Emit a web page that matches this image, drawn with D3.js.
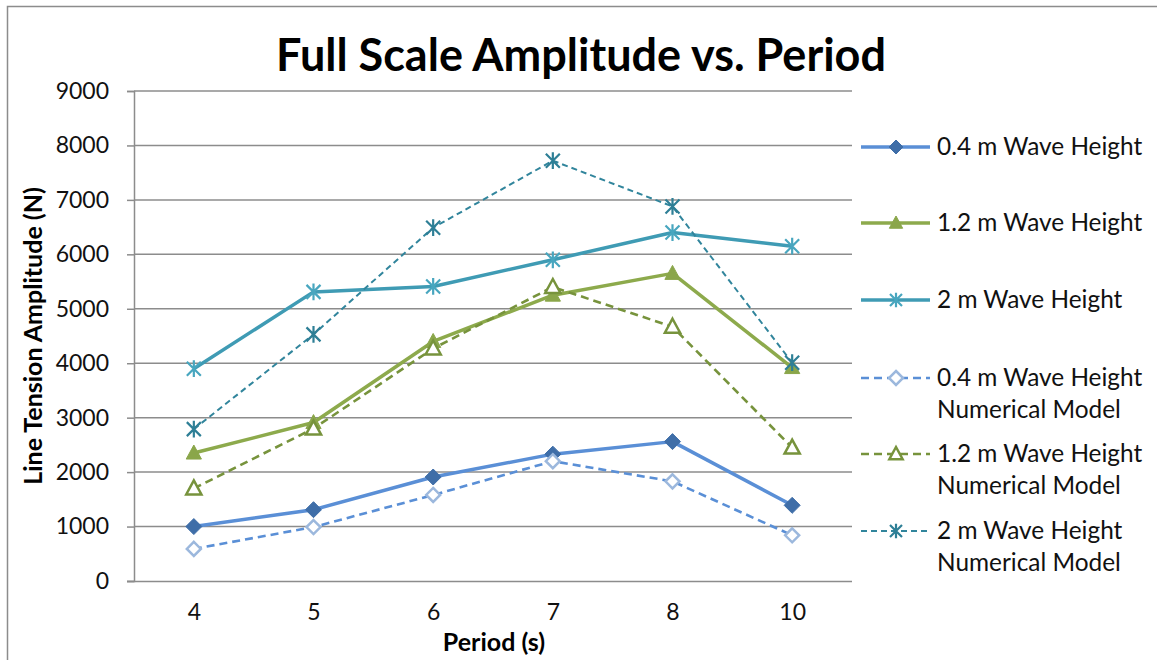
<!DOCTYPE html>
<html>
<head>
<meta charset="utf-8">
<script src="https://cdn.jsdelivr.net/npm/d3@7"></script>
<style>
  html, body { margin: 0; padding: 0; background: #fff; }
  svg { display: block; font-family: Lato, "Open Sans", sans-serif; }
</style>
</head>
<body>
<svg id="chart" width="1157" height="660"></svg>
<script>
// Periods (s) on the category axis
const periods = ["4", "5", "6", "7", "8", "10"];
const yTicks = [0, 1000, 2000, 3000, 4000, 5000, 6000, 7000, 8000, 9000];

// Line tension amplitude (N), measured
const wave04 = [1000, 1310, 1910, 2330, 2560, 1390];
const wave12 = [2350, 2910, 4400, 5250, 5650, 3920];
const wave20 = [3900, 5310, 5410, 5900, 6400, 6150];
// Line tension amplitude (N), numerical model
const model04 = [590, 990, 1580, 2200, 1830, 840];
const model12 = [1700, 2800, 4270, 5400, 4670, 2450];
const model20 = [2790, 4530, 6490, 7720, 6880, 4010];

const seriesNames = [
  ["0.4 m Wave Height"],
  ["1.2 m Wave Height"],
  ["2 m Wave Height"],
  ["0.4 m Wave Height", "Numerical Model"],
  ["1.2 m Wave Height", "Numerical Model"],
  ["2 m Wave Height", "Numerical Model"]
];

const styles = [
  { values: wave04,  line: "#5A8FD6", width: 3.5, dash: null,  marker: "diamond",  fill: "#3F6EA8", stroke: "#3F6EA8", ms: 8 },
  { values: wave12,  line: "#8DAA4C", width: 3.5, dash: null,  marker: "triangle", fill: "#8AA64A", stroke: "#8AA64A", ms: 8 },
  { values: wave20,  line: "#3F9BB4", width: 3.5, dash: null,  marker: "star",     fill: "none",    stroke: "#48A6BF", ms: 7 },
  { values: model04, line: "#5A8FD6", width: 2.6, dash: "8,5", marker: "diamond",  fill: "#fff",    stroke: "#9CB8DD", ms: 7 },
  { values: model12, line: "#77933C", width: 2.6, dash: "8,5", marker: "triangle", fill: "#fff",    stroke: "#77933C", ms: 8 },
  { values: model20, line: "#31859C", width: 2.0, dash: "6,4", marker: "star",     fill: "none",    stroke: "#2E7F96", ms: 7 }
];

const svg = d3.select("#chart");

// Chart frame
svg.append("path")
  .attr("d", "M7.5,660 L7.5,6.5 L1157,6.5")
  .attr("fill", "none").attr("stroke", "#8c8c8c").attr("stroke-width", 1.5);

const plot = { left: 134, right: 852, top: 91, bottom: 581 };

const x = d3.scalePoint().domain(periods).range([plot.left, plot.right]).padding(0.5);
const y = d3.scaleLinear().domain([0, 9000]).range([plot.bottom, plot.top]);

// Horizontal gridlines
svg.append("g")
  .selectAll("line").data(yTicks.filter(d => d > 0)).join("line")
  .attr("x1", plot.left).attr("x2", plot.right)
  .attr("y1", d => y(d)).attr("y2", d => y(d))
  .attr("stroke", "#8c8c8c").attr("stroke-width", 1.5);

// Y axis
const yAxis = svg.append("g")
  .attr("transform", `translate(${plot.left},0)`)
  .call(d3.axisLeft(y).tickValues(yTicks).tickSize(7).tickPadding(18).tickFormat(d3.format("d")));
yAxis.select(".domain").attr("stroke", "#8c8c8c").attr("stroke-width", 1.5);
yAxis.selectAll(".tick line").attr("stroke", "#8c8c8c").attr("stroke-width", 1.5);
yAxis.selectAll(".tick text")
  .attr("font-size", 23).attr("fill", "#111").attr("font-family", "Lato, sans-serif");

// X axis
const xAxis = svg.append("g")
  .attr("transform", `translate(0,${plot.bottom})`)
  .call(d3.axisBottom(x).tickSize(0).tickPadding(23));
xAxis.select(".domain").attr("d", `M${plot.left - 7},0.5H${plot.right}`)
  .attr("stroke", "#8c8c8c").attr("stroke-width", 1.5);
xAxis.selectAll(".tick text")
  .attr("font-size", 23).attr("fill", "#111").attr("font-family", "Lato, sans-serif");

// Titles
svg.append("text")
  .attr("x", 581).attr("y", 71).attr("text-anchor", "middle")
  .attr("font-size", 45).attr("font-weight", "bold").attr("fill", "#000")
  .text("Full Scale Amplitude vs. Period");

svg.append("text")
  .attr("transform", "translate(42,336) rotate(-90)")
  .attr("text-anchor", "middle")
  .attr("font-size", 25).attr("font-weight", "bold").attr("fill", "#000")
  .text("Line Tension Amplitude (N)");

svg.append("text")
  .attr("x", 494).attr("y", 651).attr("text-anchor", "middle")
  .attr("font-size", 25).attr("font-weight", "bold").attr("fill", "#000")
  .text("Period (s)");

// Marker path generator centred at 0,0
function markerPath(type, r) {
  if (type === "diamond") return `M0,${-r}L${r},0L0,${r}L${-r},0Z`;
  if (type === "triangle") return `M0,${-r}L${r * 0.95},${r * 0.75}L${-r * 0.95},${r * 0.75}Z`;
  // asterisk: X plus vertical bar
  return `M${-r},${-r}L${r},${r}M${-r},${r}L${r},${-r}M0,${-r * 1.2}L0,${r * 1.2}`;
}

function drawMarker(g, s, r) {
  const p = g.append("path").attr("d", markerPath(s.marker, r));
  if (s.marker === "star") {
    p.attr("fill", "none").attr("stroke", s.stroke).attr("stroke-width", 2.2);
  } else if (s.fill === "#fff") {
    p.attr("fill", "#fff").attr("stroke", s.stroke).attr("stroke-width", 2.5);
  } else {
    p.attr("fill", s.fill).attr("stroke", s.stroke).attr("stroke-width", 1);
  }
}

const line = d3.line().x((d, i) => x(periods[i])).y(d => y(d));

// Series lines and markers
styles.forEach(s => {
  svg.append("path")
    .datum(s.values)
    .attr("d", line)
    .attr("fill", "none")
    .attr("stroke", s.line)
    .attr("stroke-width", s.width)
    .attr("stroke-linejoin", "round")
    .attr("stroke-dasharray", s.dash);
  s.values.forEach((v, i) => {
    const g = svg.append("g").attr("transform", `translate(${x(periods[i])},${y(v)})`);
    drawMarker(g, s, s.ms);
  });
});

// Legend
const legendY = [147, 223, 300, 378, 454, 531];
styles.forEach((s, k) => {
  const g = svg.append("g").attr("transform", `translate(0,${legendY[k]})`);
  g.append("line")
    .attr("x1", 861).attr("x2", 930).attr("y1", 0).attr("y2", 0)
    .attr("stroke", s.line).attr("stroke-width", s.width)
    .attr("stroke-dasharray", s.dash);
  const mg = g.append("g").attr("transform", "translate(896,0)");
  drawMarker(mg, s, s.marker === "star" ? 6 : 7);
  seriesNames[k].forEach((t, j) => {
    g.append("text")
      .attr("x", 937).attr("y", 8 + j * 32)
      .attr("font-size", 24.4).attr("fill", "#111")
      .text(t);
  });
});
</script>
</body>
</html>
